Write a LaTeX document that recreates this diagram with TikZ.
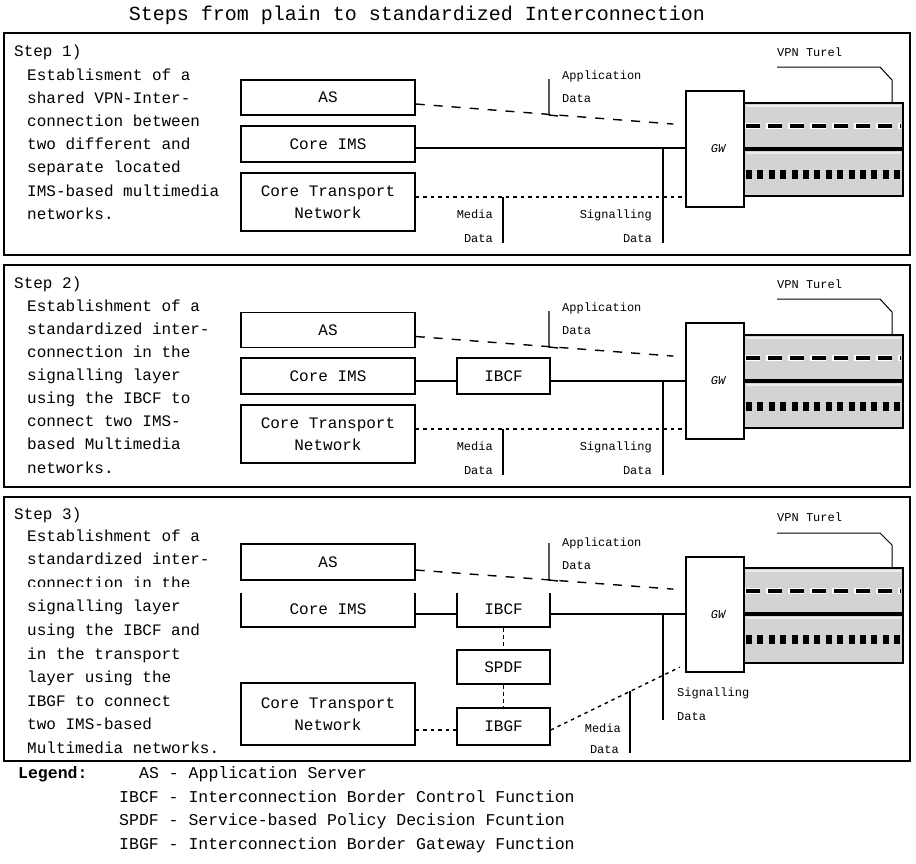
\documentclass[tikz,border=0pt]{standalone}
\usepackage{fontspec}
\setmainfont{Liberation Mono}
\newcommand\myBody{\fontsize{16}{22}\selectfont}
\newcommand\mySmall{\fontsize{12}{14}\selectfont}
\newcommand\myTitle{\fontsize{20}{24}\selectfont}
\newcommand\myLeg{\fontsize{16.5}{20}\selectfont}
\definecolor{tungray}{HTML}{D3D3D3}
\definecolor{tunlight}{HTML}{ECECEC}
\begin{document}
\begin{tikzpicture}[x=1pt,y=-1pt,
  frame/.style={draw, line width=1.6pt},
  box/.style={draw, line width=1.5pt, minimum width=174pt, inner sep=0pt, font=\myBody, align=center},
  fbox/.style={draw, line width=1.5pt, minimum width=93pt, inner sep=0pt, font=\myBody, align=center},
  gwbox/.style={draw, line width=1.5pt, minimum width=58pt, inner sep=0pt, font=\mySmall\itshape},
  tunbox/.style={draw, line width=1.6pt, fill=tungray, minimum width=159pt, inner sep=0pt},
  txt/.style={anchor=west, inner sep=0pt, font=\myBody, text height=11pt, text depth=3pt},
  lbl/.style={inner sep=0pt, font=\mySmall, text height=8.5pt, text depth=2.5pt},
  conn/.style={line width=1.4pt},
  dashline/.style={line width=1.4pt, dash pattern=on 9pt off 9pt, shorten >=12pt},
  dotline/.style={line width=1.4pt, dash pattern=on 3.5pt off 4pt},
  vdash/.style={line width=1.4pt, dash pattern=on 4pt off 3pt},
  tunmid/.style={line width=4pt},
  tunwhite/.style={line width=6pt, white, dash pattern=on 16pt off 6pt, dash phase=1pt},
  tundash/.style={line width=4pt, dash pattern=on 14pt off 8pt},
  tunedge/.style={line width=1.2pt, tunlight},
  tundot/.style={line width=9pt, dash pattern=on 6pt off 5.4pt},
  pointer/.style={line width=1pt}
]
\useasboundingbox (0,0) rectangle (916,863);

\node[inner sep=0pt, font=\myTitle] (title) at (417,15) {Steps from plain to standardized Interconnection};

% ================= Step 1 =================
\draw[frame] (4,33) rectangle (910,255);
\node[txt] (s1h) at (14,52) {Step 1)};
\foreach \t [count=\i from 0] in {Establisment of a, shared VPN-Inter-, connection between, two different and, separate located, IMS-based multimedia, networks.}
  \node[txt] (s1l\i) at (27,{76+23.2*\i}) {\t};
\node[box, minimum height=35pt] (as1) at (328,97.5) {AS};
\node[box, minimum height=36pt] (ims1) at (328,144) {Core IMS};
\node[box, minimum height=58pt] (ctn1) at (328,202) {Core Transport\\Network};
\node[gwbox, minimum height=116pt] (gw1) at (715,149) {\hspace{6pt}GW};
\node[tunbox, minimum height=93pt] (tun1) at (823.5,149.5) {};
\draw[tunedge] (746,106) -- (901,106);
\draw[tunedge] (746,153) -- (901,153);
\draw[tunmid] (744,149) -- (903,149);
\draw[tunwhite] (745,126) -- (901,126);
\draw[tundash] (746,126) -- (901,126);
\draw[tundot] (746,174) -- (901,174);
\draw[dashline] ([yshift=-6.5pt]as1.east) -- ([yshift=24pt]gw1.west);
\draw[conn] ([yshift=-4pt]ims1.east) -- ([yshift=-4pt]ims1.east -| gw1.west);
\draw[dotline] ([yshift=5pt]ctn1.east) -- ([yshift=5pt]ctn1.east -| gw1.west);
\coordinate (a1t) at (549,79); \coordinate (a1b) at (549,115); \coordinate (a1r) at (558,116);
\draw[conn] (a1t) -- (a1b) -- (a1r);
\node[lbl, anchor=west] (a1l1) at (562,76) {Application};
\node[lbl, anchor=west] (a1l2) at (562,99) {Data};
\coordinate (s1t) at (663,148); \coordinate (s1b) at (663,243);
\draw[conn] (s1t) -- (s1b);
\node[lbl, anchor=east] (sg1l1) at (652,215) {Signalling};
\node[lbl, anchor=east] (sg1l2) at (652,239) {Data};
\coordinate (m1t) at (503,197); \coordinate (m1b) at (503,243);
\draw[conn] (m1t) -- (m1b);
\node[lbl, anchor=east] (m1l1) at (493,215) {Media};
\node[lbl, anchor=east] (m1l2) at (493,239) {Data};
\node[lbl, anchor=west] (v1) at (777,53) {VPN Turel};
\coordinate (v1a) at (777,67); \coordinate (v1b) at (880,67); \coordinate (v1c) at (892,80);
\draw[pointer] (v1a) -- (v1b) -- (v1c) -- (v1c |- tun1.north);

% ================= Step 2 =================
\draw[frame] (4,265) rectangle (910,487);
\node[txt] (s2h) at (14,284) {Step 2)};
\foreach \t [count=\i from 0] in {Establishment of a, standardized inter-, connection in the, signalling layer, using the IBCF to, connect two IMS-, based Multimedia, networks.}
  \node[txt] (s2l\i) at (27,{307+23.15*\i}) {\t};
\node[box, minimum height=35pt] (as2) at (328,330) {AS};
\node[box, minimum height=36pt] (ims2) at (328,376) {Core IMS};
\node[box, minimum height=58pt] (ctn2) at (328,434) {Core Transport\\Network};
\node[fbox, minimum height=36pt] (ibcf2) at (503.5,376) {IBCF};
\node[gwbox, minimum height=116pt] (gw2) at (715,381) {\hspace{6pt}GW};
\node[tunbox, minimum height=93pt] (tun2) at (823.5,381.5) {};
\draw[tunedge] (746,338) -- (901,338);
\draw[tunedge] (746,385) -- (901,385);
\draw[tunmid] (744,381) -- (903,381);
\draw[tunwhite] (745,358) -- (901,358);
\draw[tundash] (746,358) -- (901,358);
\draw[tundot] (746,406) -- (901,406);
\draw[dashline] ([yshift=-6.5pt]as2.east) -- ([yshift=24pt]gw2.west);
\draw[conn] ([yshift=-5pt]ims2.east) -- ([yshift=-5pt]ibcf2.west);
\draw[conn] ([yshift=-5pt]ibcf2.east) -- ([yshift=-5pt]ibcf2.east -| gw2.west);
\draw[dotline] ([yshift=5pt]ctn2.east) -- ([yshift=5pt]ctn2.east -| gw2.west);
\coordinate (a2t) at (549,311); \coordinate (a2b) at (549,347); \coordinate (a2r) at (558,348);
\draw[conn] (a2t) -- (a2b) -- (a2r);
\node[lbl, anchor=west] (a2l1) at (562,308) {Application};
\node[lbl, anchor=west] (a2l2) at (562,331) {Data};
\coordinate (s2t) at (663,381); \coordinate (s2b) at (663,475);
\draw[conn] (s2t) -- (s2b);
\node[lbl, anchor=east] (sg2l1) at (652,447) {Signalling};
\node[lbl, anchor=east] (sg2l2) at (652,471) {Data};
\coordinate (m2t) at (503,429); \coordinate (m2b) at (503,475);
\draw[conn] (m2t) -- (m2b);
\node[lbl, anchor=east] (m2l1) at (493,447) {Media};
\node[lbl, anchor=east] (m2l2) at (493,471) {Data};
\node[lbl, anchor=west] (v2) at (777,285) {VPN Turel};
\coordinate (v2a) at (777,299); \coordinate (v2b) at (880,299); \coordinate (v2c) at (892,312);
\draw[pointer] (v2a) -- (v2b) -- (v2c) -- (v2c |- tun2.north);

% ================= Step 3 =================
\draw[frame] (4,497) rectangle (910,761);
\node[txt] (s3h) at (14,515) {Step 3)};
\foreach \t [count=\i from 0] in {Establishment of a, standardized inter-, connection in the, signalling layer, using the IBCF and, in the transport, layer using the, IBGF to connect, two IMS-based, Multimedia networks.}
  \node[txt] (s3l\i) at (27,{537+23.6*\i}) {\t};
\node[box, minimum height=36pt] (as3) at (328,562) {AS};
\node[box, minimum height=36pt] (ims3) at (328,609) {Core IMS};
\node[box, minimum height=62pt] (ctn3) at (328,714) {Core Transport\\Network};
\node[fbox, minimum height=36pt] (ibcf3) at (503.5,609) {IBCF};
\node[fbox, minimum height=34pt] (spdf3) at (503.5,667) {SPDF};
\node[fbox, minimum height=37pt] (ibgf3) at (503.5,726.5) {IBGF};
\node[gwbox, minimum height=115pt] (gw3) at (715,614.5) {\hspace{6pt}GW};
\node[tunbox, minimum height=95pt] (tun3) at (823.5,615.5) {};
\draw[tunedge] (746,571) -- (901,571);
\draw[tunedge] (746,618) -- (901,618);
\draw[tunmid] (744,614) -- (903,614);
\draw[tunwhite] (745,591) -- (901,591);
\draw[tundash] (746,591) -- (901,591);
\draw[tundot] (746,639) -- (901,639);
\draw[dashline] ([yshift=-8pt]as3.east) -- ([yshift=24.5pt]gw3.west);
\draw[conn] ([yshift=-5pt]ims3.east) -- ([yshift=-5pt]ibcf3.west);
\draw[conn] ([yshift=-5pt]ibcf3.east) -- ([yshift=-5pt]ibcf3.east -| gw3.west);
\draw[vdash] (ibcf3.south) -- (spdf3.north);
\draw[vdash] (spdf3.south) -- (ibgf3.north);
\draw[dotline] ([yshift=-16pt]ctn3.east) -- ([yshift=-16pt]ctn3.east -| ibgf3.west);
\draw[dotline, shorten >=6pt] ([yshift=-3.5pt]ibgf3.east) -- ([yshift=-50pt]gw3.west);
\coordinate (a3t) at (549,543); \coordinate (a3b) at (549,580); \coordinate (a3r) at (558,581);
\draw[conn] (a3t) -- (a3b) -- (a3r);
\node[lbl, anchor=west] (a3l1) at (562,543) {Application};
\node[lbl, anchor=west] (a3l2) at (562,566) {Data};
\coordinate (s3t) at (663,614); \coordinate (s3b) at (663,720);
\draw[conn] (s3t) -- (s3b);
\node[lbl, anchor=west] (sg3l1) at (677,693) {Signalling};
\node[lbl, anchor=west] (sg3l2) at (677,717) {Data};
\coordinate (m3t) at (630,691); \coordinate (m3b) at (630,753);
\draw[conn] (m3t) -- (m3b);
\node[lbl, anchor=east] (m3l1) at (621,729) {Media};
\node[lbl, anchor=east] (m3l2) at (619,750) {Data};
\node[lbl, anchor=west] (v3) at (777,518) {VPN Turel};
\coordinate (v3a) at (777,533); \coordinate (v3b) at (880,533); \coordinate (v3c) at (892,545);
\draw[pointer] (v3a) -- (v3b) -- (v3c) -- (v3c |- tun3.north);
% white band that cuts through the reference here
\fill[white] (10,586.5) rectangle (556,592.8);

% ================= Legend =================
\node[txt, font=\myLeg\bfseries] (leg) at (18,774) {Legend:};
\node[txt, font=\myLeg] (leg1) at (139,774) {AS - Application Server};
\node[txt, font=\myLeg] (leg2) at (119,798) {IBCF - Interconnection Border Control Function};
\node[txt, font=\myLeg] (leg3) at (119,821) {SPDF - Service-based Policy Decision Fcuntion};
\node[txt, font=\myLeg] (leg4) at (119,845) {IBGF - Interconnection Border Gateway Function};
\end{tikzpicture}
\end{document}
